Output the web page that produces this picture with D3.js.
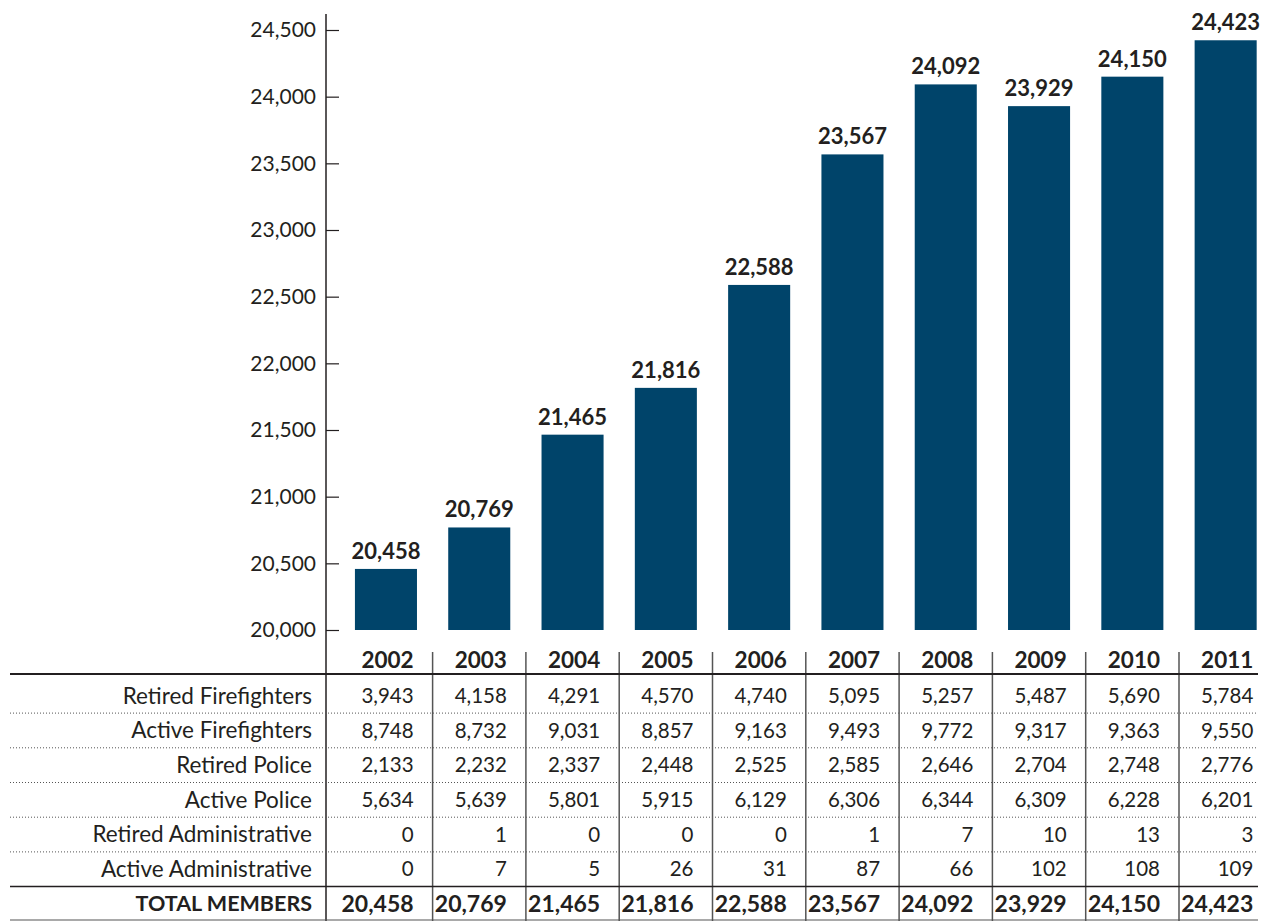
<!DOCTYPE html>
<html>
<head>
<meta charset="utf-8">
<script src="https://cdn.jsdelivr.net/npm/d3@7"></script>
<style>
  body { margin: 0; background: #fff; }
  svg { display: block; }
  text { font-family: Lato, "Open Sans", sans-serif; fill: #231f20; }
</style>
</head>
<body>
<svg id="chart" width="1270" height="921"></svg>
<script>
const years = ["2002","2003","2004","2005","2006","2007","2008","2009","2010","2011"];
const totals = [20458, 20769, 21465, 21816, 22588, 23567, 24092, 23929, 24150, 24423];
const rowLabels = ["Retired Firefighters","Active Firefighters","Retired Police","Active Police","Retired Administrative","Active Administrative"];
const retiredFirefighters = [3943, 4158, 4291, 4570, 4740, 5095, 5257, 5487, 5690, 5784];
const activeFirefighters  = [8748, 8732, 9031, 8857, 9163, 9493, 9772, 9317, 9363, 9550];
const retiredPolice       = [2133, 2232, 2337, 2448, 2525, 2585, 2646, 2704, 2748, 2776];
const activePolice        = [5634, 5639, 5801, 5915, 6129, 6306, 6344, 6309, 6228, 6201];
const retiredAdmin        = [0, 1, 0, 0, 0, 1, 7, 10, 13, 3];
const activeAdmin         = [0, 7, 5, 26, 31, 87, 66, 102, 108, 109];
const yTicks = [20000, 20500, 21000, 21500, 22000, 22500, 23000, 23500, 24000, 24500];
const totalLabel = "TOTAL MEMBERS";

const rows = [retiredFirefighters, activeFirefighters, retiredPolice, activePolice, retiredAdmin, activeAdmin];

const svg = d3.select("#chart");
const fmt = d3.format(",");
const barColor = "#00446a";
const axisX = 326;

const x = d3.scaleBand().domain(years).range([339.3, 1272.3]).paddingInner(0.335).paddingOuter(0.1675);
const y = d3.scaleLinear().domain([20000, 24500]).range([630, 30]);
const step = x.step();
const gap = x.paddingInner() * step / 2;

// Bars
svg.append("g").selectAll("rect").data(years).join("rect")
  .attr("x", d => x(d))
  .attr("width", x.bandwidth())
  .attr("y", (d, i) => y(totals[i]))
  .attr("height", (d, i) => y(20000) - y(totals[i]))
  .attr("fill", barColor);

// Bar labels
svg.append("g").selectAll("text").data(years).join("text")
  .attr("x", d => x(d) + x.bandwidth() / 2)
  .attr("y", (d, i) => y(totals[i]) - 10)
  .attr("text-anchor", "middle")
  .attr("font-size", 22)
  .attr("font-weight", "bold")
  .text((d, i) => fmt(totals[i]));

// Y axis
const yAxis = d3.axisLeft(y).tickValues(yTicks).tickFormat(fmt).tickSize(-13).tickPadding(10);
const gy = svg.append("g").attr("transform", `translate(${axisX},0)`).call(yAxis);
gy.select(".domain").remove();
gy.selectAll(".tick line").attr("stroke", "#231f20").attr("stroke-width", 1.2);
gy.selectAll(".tick text").attr("font-size", 21).attr("fill", "#231f20").style("font-family", "Lato, sans-serif");

// Axis vertical line (extends through table)
svg.append("line").attr("x1", axisX).attr("x2", axisX).attr("y1", 14).attr("y2", 921)
  .attr("stroke", "#231f20").attr("stroke-width", 1.5);

// Table
const tableLeft = 10, tableRight = 1258;
const headerLineY = 674;
const rowTop = 678.4, rowH = 34.7;

// column separators
svg.append("g").selectAll("line").data(years.slice(1)).join("line")
  .attr("x1", d => x(d) - gap).attr("x2", d => x(d) - gap)
  .attr("y1", 652).attr("y2", 921)
  .attr("stroke", "#555").attr("stroke-width", 1.5);

// header years
svg.append("g").selectAll("text").data(years).join("text")
  .attr("x", d => x(d) + x.bandwidth() + gap - 19)
  .attr("y", 668)
  .attr("text-anchor", "end")
  .attr("font-size", 22.5)
  .attr("font-weight", "bold")
  .text(d => d);

svg.append("line").attr("x1", tableLeft).attr("x2", tableRight).attr("y1", headerLineY).attr("y2", headerLineY)
  .attr("stroke", "#231f20").attr("stroke-width", 2);

// Data rows
rows.forEach((vals, r) => {
  const cy = rowTop + rowH * r + rowH / 2;
  svg.append("text").attr("x", 312).attr("y", cy).attr("dy", "0.35em")
    .attr("text-anchor", "end").attr("font-size", 22.5).text(rowLabels[r]);
  svg.append("g").selectAll("text").data(years).join("text")
    .attr("x", d => x(d) + x.bandwidth() + gap - 19)
    .attr("y", cy).attr("dy", "0.35em")
    .attr("text-anchor", "end").attr("font-size", 20.5)
    .text((d, i) => fmt(vals[i]));
  if (r < rows.length - 1) {
    const ly = rowTop + rowH * (r + 1);
    svg.append("line").attr("x1", tableLeft).attr("x2", tableRight).attr("y1", ly).attr("y2", ly)
      .attr("stroke", "#555").attr("stroke-width", 1).attr("stroke-dasharray", "1,2");
  }
});

// Total row
const totalTop = rowTop + rowH * rows.length;
svg.append("line").attr("x1", tableLeft).attr("x2", tableRight).attr("y1", totalTop).attr("y2", totalTop)
  .attr("stroke", "#231f20").attr("stroke-width", 1.5);
const tcy = totalTop + rowH / 2;
svg.append("text").attr("x", 312).attr("y", tcy).attr("dy", "0.35em")
  .attr("text-anchor", "end").attr("font-size", 21.5).attr("font-weight", "bold").text(totalLabel);
svg.append("g").selectAll("text").data(years).join("text")
  .attr("x", d => x(d) + x.bandwidth() + gap - 19)
  .attr("y", tcy).attr("dy", "0.35em")
  .attr("text-anchor", "end").attr("font-size", 23).attr("font-weight", "bold")
  .text((d, i) => fmt(totals[i]));
svg.append("line").attr("x1", tableLeft).attr("x2", tableRight).attr("y1", 920).attr("y2", 920)
  .attr("stroke", "#555").attr("stroke-width", 1.2);
</script>
</body>
</html>
